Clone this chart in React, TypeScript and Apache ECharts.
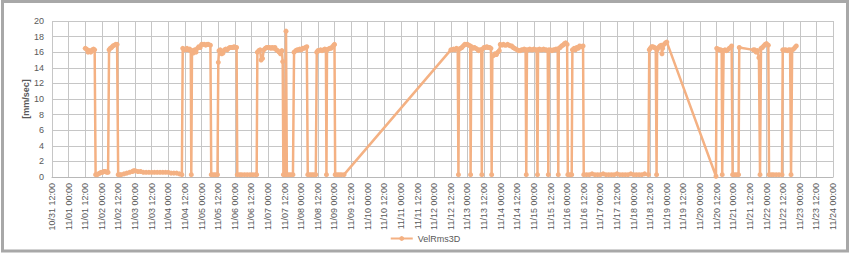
import React, { useEffect, useRef } from "react";
import * as echarts from "echarts";

// Hours elapsed since 10/31 12:00 and the VelRms3D value [mm/sec]
const samples: [number, number][] = [
  [24, 16.5], [25, 16.4], [26, 16.0], [27, 16.2], [28, 16.0], [29, 16.3], [30, 16.4], [30.8, 16.3],
  [31.5, 0.3], [32.5, 0.3], [33.5, 0.4], [34.5, 0.5], [35.5, 0.6], [36.5, 0.6], [37.5, 0.7], [38.5, 0.7], [39.5, 0.6], [40.5, 0.6],
  [41.2, 16.3], [42, 16.5], [43, 16.6], [44, 16.8], [45, 16.9], [46, 17.0], [47, 17.0],
  [47.8, 0.3], [49, 0.3], [50, 0.3], [52, 0.4], [54, 0.5], [56, 0.6], [58, 0.7], [59, 0.8], [60, 0.8], [62, 0.7], [64, 0.7],
  [66, 0.6], [68, 0.6], [70, 0.6], [72, 0.6], [74, 0.6], [76, 0.6], [78, 0.6], [80, 0.6], [82, 0.6], [84, 0.6], [86, 0.5],
  [88, 0.5], [90, 0.5], [92, 0.4], [93.8, 0.3],
  [94.4, 16.5], [95.5, 16.4], [96.5, 16.3], [97.5, 16.5], [98.5, 16.3], [99.5, 16.4], [100.2, 16.2], [100.6, 0.3], [101.1, 16.2],
  [102, 15.9], [103, 16.3], [104, 16.0], [105, 16.5], [106, 16.7], [107, 16.6], [108, 17.0], [109, 17.0], [110, 17.0], [111, 16.9],
  [112, 17.0], [113, 17.0], [114.4, 16.9],
  [115, 0.3], [116.5, 0.3], [118, 0.3], [119.5, 0.3],
  [120.1, 14.7], [120.6, 16.2], [121.5, 16.3], [122.5, 15.8], [123.5, 15.9], [124.5, 16.3], [125.5, 16.4], [126.5, 16.3],
  [127.5, 16.5], [128.5, 16.6], [129.5, 16.6], [130.5, 16.6], [131.5, 16.7], [132.5, 16.6], [133.3, 16.6],
  [133.8, 0.3], [135.5, 0.3], [137, 0.3], [139, 0.3], [141, 0.3], [143, 0.3], [145, 0.3], [147, 0.3], [147.8, 0.3],
  [148.3, 16.0], [149.3, 16.2], [150.3, 16.3], [151, 15.0], [152, 15.2], [153, 16.3], [154, 16.5], [155, 16.6], [156, 16.6],
  [157, 16.6], [158, 16.5], [159, 16.6], [160, 16.5], [161, 16.6], [162, 16.3], [163, 16.2], [164, 16.0], [165, 15.8],
  [166, 16.2], [166.6, 14.8],
  [167.1, 0.3], [168.3, 0.3], [169, 18.7], [169.6, 0.3], [171, 0.3], [172.5, 0.3], [174, 0.3],
  [174.8, 16.0], [176, 16.2], [177, 16.3], [178, 16.3], [179, 16.4], [180, 16.3], [181, 16.5], [182, 16.5], [183, 16.6], [184, 16.7],
  [184.7, 0.3], [186, 0.3], [187.5, 0.3], [189, 0.3], [190.5, 0.3],
  [191.2, 16.0], [192, 16.2], [193, 16.2], [194, 16.3], [195, 16.2], [196, 16.3], [197, 16.4], [197.8, 16.3], [198.2, 0.3],
  [198.6, 16.3], [199.5, 16.4], [200.5, 16.5], [201.5, 16.5], [202.5, 16.7], [203.5, 16.9], [204, 17.0],
  [204.5, 0.3], [206, 0.3], [207.5, 0.3], [209, 0.3], [210.9, 0.3],
  [288, 16.3], [289, 16.3], [290, 16.4], [291, 16.3], [292, 16.5], [293, 16.4], [293.5, 0.3], [294, 16.4], [295, 16.5],
  [296, 16.6], [297, 16.8], [298, 17.0], [299, 17.0], [300, 17.0], [301, 16.9], [302, 16.8], [302.3, 0.3], [302.8, 16.7],
  [304, 16.5], [305, 16.6], [306, 16.5], [307, 16.4], [308, 16.2], [309, 16.3], [310, 16.3], [310.4, 0.3], [310.8, 16.4],
  [312, 16.6], [313, 16.6], [314, 16.7], [315, 16.6], [316, 16.6], [317, 16.5], [317.5, 0.3], [318, 15.5], [319, 15.6],
  [320, 15.8], [321, 15.7], [322, 16.0], [323, 16.2], [323.7, 17.0], [325, 16.9], [326, 17.0], [327, 16.9], [328, 16.9],
  [329, 17.0], [330, 16.9], [331, 16.8], [332, 16.8], [333, 16.6], [334, 16.5], [335, 16.4], [336, 16.3], [337, 16.2],
  [338, 16.2], [339, 16.3], [340, 16.3], [341, 16.4], [342, 16.3], [342.5, 0.3], [343, 16.3], [344, 16.3], [345, 16.4],
  [346, 16.3], [347, 16.3], [348, 16.4], [349, 16.3], [350, 16.3], [350.6, 0.3], [351, 16.3], [352, 16.4], [353, 16.3],
  [354, 16.3], [355, 16.4], [356, 16.3], [357, 16.3], [358, 16.2], [358.4, 0.3], [358.8, 16.3], [360, 16.3], [361, 16.2],
  [362, 16.3], [363, 16.3], [364, 16.4], [365.2, 16.3], [365.6, 0.3], [366, 16.5], [367, 16.6], [368, 16.8], [369, 16.9],
  [370, 17.1], [371, 17.2], [372, 17.0], [372.5, 0.3], [374, 0.3], [375.3, 0.3], [375.8, 16.3], [377, 16.5], [378, 16.3],
  [379, 16.6], [380, 16.5], [381, 16.8], [382, 16.7], [383.5, 16.8],
  [384, 0.3], [386, 0.3], [388, 0.3], [390, 0.4], [392, 0.3], [394, 0.3], [396, 0.3], [398, 0.4], [400, 0.3], [402, 0.3],
  [404, 0.3], [406, 0.3], [408, 0.4], [410, 0.3], [412, 0.3], [414, 0.3], [416, 0.3], [418, 0.4], [420, 0.3], [422, 0.3],
  [424, 0.3], [426, 0.3], [428, 0.4], [430.7, 0.3],
  [431.3, 16.3], [432, 16.5], [433, 16.7], [434, 16.7], [435, 16.6], [436, 16.5], [436.6, 0.3], [437, 16.3], [438, 16.6],
  [439, 16.8], [440, 16.9], [440.5, 15.8], [441, 16.5], [442, 17.0], [443, 17.2], [444, 17.3],
  [479.5, 0.1], [480, 16.5], [481, 16.4], [482, 16.3], [483, 16.3], [483.6, 16.2], [484, 0.3], [485, 16.2], [486, 16.3],
  [487, 16.2], [488, 16.3], [489, 16.5], [490, 16.6], [490.8, 16.8], [491.5, 0.3], [493, 0.3], [494.5, 0.3], [495.8, 0.3],
  [496.3, 16.6], [506.4, 16.3], [507.5, 16.3], [508.5, 16.0], [509.5, 16.2], [510.5, 15.3], [511.3, 0.3], [512, 16.5],
  [513, 16.6], [514, 16.8], [515, 17.0], [516, 17.1], [517.3, 16.9], [517.8, 0.3], [519.5, 0.3], [521, 0.3], [523, 0.3],
  [525, 0.3], [527.2, 0.3], [527.7, 16.3], [529, 16.3], [530, 16.3], [531, 16.2], [532, 16.3], [533, 16.3], [533.7, 0.3],
  [534.5, 16.3], [535.5, 16.4], [536.5, 16.6], [537.5, 16.8],
];

const seriesName = "VelRms3D";
const yAxisName = "[mm/sec]";
const xStartUTC = Date.UTC(2000, 9, 31, 12, 0); // 10/31 12:00
const xSpanHours = 564; // to 11/24 00:00
const xTickHours = 12;
const yMax = 20;
const yTick = 2;

const pad = (n: number) => (n < 10 ? "0" + n : "" + n);
const fmtTick = (h: number) => {
  const d = new Date(xStartUTC + h * 3600 * 1000);
  return `${pad(d.getUTCMonth() + 1)}/${pad(d.getUTCDate())} ${pad(d.getUTCHours())}:${pad(d.getUTCMinutes())}`;
};

export default function App() {
  const ref = useRef<HTMLDivElement>(null);
  useEffect(() => {
    if (!ref.current) return;
    const chart = echarts.init(ref.current, null, { renderer: "svg" });
    const font = "'Liberation Sans', Arial, sans-serif";
    const txt = "#595959";
    const grid = "#c6c6c6";
    chart.setOption({
      animation: false,
      backgroundColor: "#ffffff",
      textStyle: { fontFamily: font },
      grid: { left: 52, right: 17, top: 21, bottom: 79 },
      xAxis: {
        type: "value",
        min: 0,
        max: xSpanHours,
        interval: xTickHours,
        axisLine: { show: true, lineStyle: { color: "#b8b8b8", width: 1 } },
        axisTick: { show: false },
        splitLine: { show: true, lineStyle: { color: grid, width: 1 } },
        axisLabel: {
          rotate: 90,
          margin: 6,
          fontSize: 9,
          color: txt,
          fontFamily: font,
          formatter: (v: number) => fmtTick(v),
        },
      },
      yAxis: {
        type: "value",
        min: 0,
        max: yMax,
        interval: yTick,
        name: yAxisName,
        nameLocation: "middle",
        nameGap: 22,
        nameMoveOverlap: false,
        nameTextStyle: { fontSize: 9, fontWeight: "bold", color: txt, fontFamily: font },
        axisLine: { show: false },
        axisTick: { show: false },
        splitLine: { show: true, lineStyle: { color: grid, width: 1 } },
        axisLabel: { fontSize: 9, color: txt, margin: 8, fontFamily: font },
      },
      legend: {
        data: [seriesName],
        left: "center",
        top: 229,
        itemWidth: 22,
        itemHeight: 6,
        itemGap: 5,
        textStyle: { fontSize: 9, color: txt, fontFamily: font },
      },
      graphic: [
        {
          type: "rect",
          shape: { x: 2.5, y: 1.5, width: 845, height: 249.5 },
          style: { fill: "none", stroke: "#a8a8a8", lineWidth: 3 },
          silent: true,
        },
      ],
      series: [
        {
          name: seriesName,
          type: "line",
          data: samples,
          symbol: "circle",
          symbolSize: 5,
          showSymbol: true,
          showAllSymbol: true,
          color: "#F4B183",
          lineStyle: { color: "#F4B183", width: 2.5 },
          itemStyle: { color: "#F4B183" },
        },
      ],
    });
    return () => chart.dispose();
  }, []);
  return (
    <div
      ref={ref}
      style={{ position: "fixed", left: 0, top: 0, width: 850, height: 256, background: "#fff" }}
    />
  );
}
